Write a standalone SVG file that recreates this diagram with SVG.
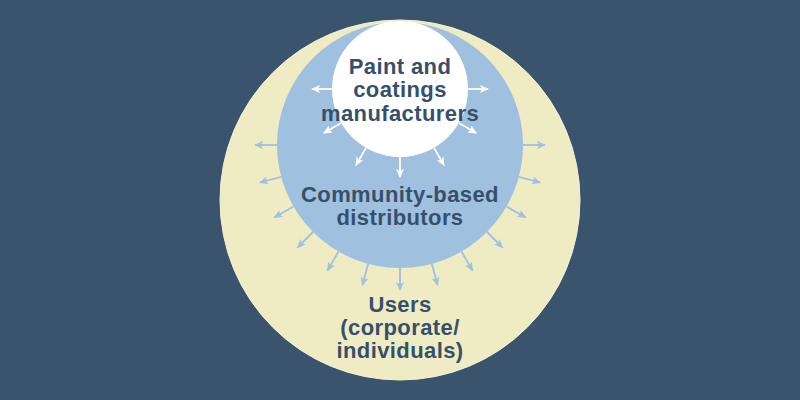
<svg xmlns="http://www.w3.org/2000/svg" width="800" height="400" viewBox="0 0 800 400">
<defs>
<style>
.lbl{font-family:"Liberation Sans",Arial,sans-serif;font-weight:bold;font-size:22px;fill:#36506b;text-anchor:middle;letter-spacing:0.4px}
.wa{stroke:#ffffff;stroke-width:1.8;fill:none;marker-end:url(#mw)}
.ba{stroke:#9fc0df;stroke-width:1.8;fill:none;marker-end:url(#mb)}
</style>
<marker id="mw" viewBox="0 0 10 10" refX="9" refY="5" markerWidth="9" markerHeight="8" markerUnits="userSpaceOnUse" orient="auto" preserveAspectRatio="none"><path d="M0,0 L10,5 L0,10 L2.5,5 Z" fill="#ffffff"/></marker>
<marker id="mb" viewBox="0 0 10 10" refX="9" refY="5" markerWidth="9" markerHeight="8" markerUnits="userSpaceOnUse" orient="auto" preserveAspectRatio="none"><path d="M0,0 L10,5 L0,10 L2.5,5 Z" fill="#9fc0df"/></marker>
</defs>
<rect width="800" height="400" fill="#3a546e"/>
<g id="users">
<circle cx="400" cy="200" r="180" fill="#efecc3" stroke="#f6f3d8" stroke-width="1"/>
<text class="lbl" x="400" y="312">Users</text>
<text class="lbl" x="400" y="335">(corporate/</text>
<text class="lbl" x="400" y="358">individuals)</text>
</g>
<g id="distributors">
<circle cx="400" cy="145" r="123" fill="#9fc0df"/>
<text class="lbl" x="400" y="202">Community-based</text>
<text class="lbl" x="400" y="225">distributors</text>
</g>
<g id="manufacturers">
<circle cx="400" cy="89" r="68" fill="#ffffff"/>
<text class="lbl" x="400" y="74">Paint and</text>
<text class="lbl" x="400" y="97">coatings</text>
<text class="lbl" x="400" y="121">manufacturers</text>
</g>
<g id="connectors">
<line class="wa" x1="468" y1="89" x2="488" y2="89"/>
<line class="wa" x1="458.9" y1="123" x2="476.2" y2="133"/>
<line class="wa" x1="434" y1="147.9" x2="444" y2="165.2"/>
<line class="wa" x1="400" y1="157" x2="400" y2="177"/>
<line class="wa" x1="366" y1="147.9" x2="356" y2="165.2"/>
<line class="wa" x1="341.1" y1="123" x2="323.8" y2="133"/>
<line class="wa" x1="332" y1="89" x2="312" y2="89"/>
<line class="ba" x1="523" y1="145" x2="545" y2="145"/>
<line class="ba" x1="518.8" y1="176.8" x2="540.1" y2="182.5"/>
<line class="ba" x1="506.5" y1="206.5" x2="525.6" y2="217.5"/>
<line class="ba" x1="487" y1="232" x2="502.5" y2="247.5"/>
<line class="ba" x1="461.5" y1="251.5" x2="472.5" y2="270.6"/>
<line class="ba" x1="431.8" y1="263.8" x2="437.5" y2="285.1"/>
<line class="ba" x1="400" y1="268" x2="400" y2="290"/>
<line class="ba" x1="368.2" y1="263.8" x2="362.5" y2="285.1"/>
<line class="ba" x1="338.5" y1="251.5" x2="327.5" y2="270.6"/>
<line class="ba" x1="313" y1="232" x2="297.5" y2="247.5"/>
<line class="ba" x1="293.5" y1="206.5" x2="274.4" y2="217.5"/>
<line class="ba" x1="281.2" y1="176.8" x2="259.9" y2="182.5"/>
<line class="ba" x1="277" y1="145" x2="255" y2="145"/>
</g>
</svg>
